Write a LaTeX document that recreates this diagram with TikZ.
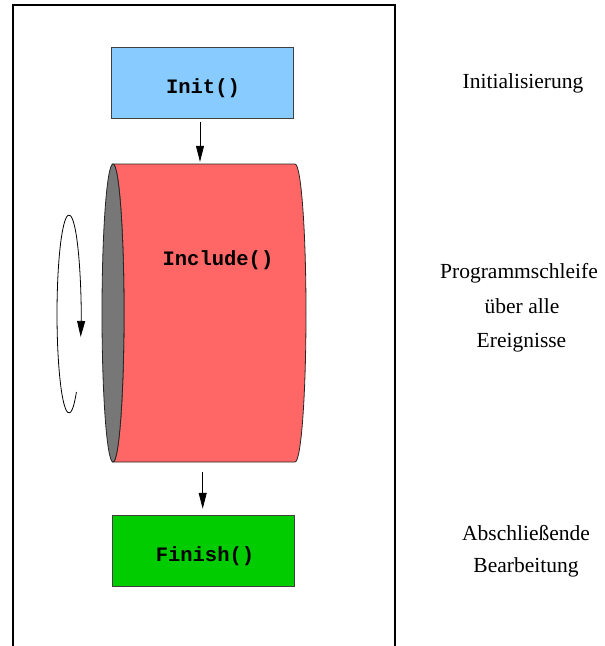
\documentclass[tikz,border=0pt]{standalone}
\usepackage{fontspec}
\setmainfont{Liberation Serif}
\setmonofont{Liberation Mono}
\usetikzlibrary{arrows.meta}
\definecolor{initblue}{HTML}{88CCFF}
\definecolor{cylred}{HTML}{FF6666}
\definecolor{cylgray}{HTML}{777777}
\definecolor{fingreen}{HTML}{00CC00}
\begin{document}
\begin{tikzpicture}[x=1pt,y=-1pt,
  box/.style={draw=black!75, line width=0.9pt, minimum width=182pt, minimum height=71pt, inner sep=0pt},
  code/.style={anchor=base, inner sep=0pt, font=\fontsize{20.5pt}{24pt}\ttfamily\bfseries},
  note/.style={anchor=base, inner sep=0pt, font=\fontsize{21.5pt}{26pt}\selectfont},
  flow/.style={-{Triangle[length=16pt,width=8pt]}, line width=0.8pt},
  shell/.style={draw=black!85, line width=0.8pt},
]
\useasboundingbox (0,0) rectangle (605,646);
% frame
\draw[line width=1.3pt] (13,646) -- (13,5) -- (395,5) -- (395,646);
% Init box
\node[box, fill=initblue] (init) at (202.5,82.5) {};
\node[code] (inittext) at (203,93) {Init()};
% cylinder
\node[minimum width=182pt, minimum height=298pt, inner sep=0pt] (inc) at (204,313) {};
\filldraw[shell, fill=cylred] (113,164) -- (295,164)
  arc[start angle=90, end angle=-90, x radius=11pt, y radius=149pt]
  -- (113,462)
  arc[start angle=-90, end angle=90, x radius=11pt, y radius=149pt] -- cycle;
\filldraw[shell, fill=cylgray] (113,313) ellipse [x radius=11pt, y radius=149pt];
\node[code] (inctext) at (218,265) {Include()};
% Finish box
\node[box, fill=fingreen] (fin) at (203.7,551.2) {};
\node[code] (fintext) at (205,561) {Finish()};
% arrows
\draw[flow, shorten <=4pt, shorten >=2pt] ([xshift=-2.5pt]init.south) -- ([xshift=-2.5pt]init.south |- inc.north);
\draw[flow, shorten <=10pt, shorten >=6.5pt] ([xshift=-1.3pt]inc.south) -- ([xshift=-1.3pt]inc.south |- fin.north);
% loop
\coordinate (loopstart) at (76.4,392);
\draw[flow] (loopstart) arc[start angle=-52, end angle=-373.4, x radius=12pt, y radius=99pt];
% notes
\node[note] (n1) at (523,88) {Initialisierung};
\node[note] (n2) at (519,278) {Programmschleife};
\node[note] (n3) at (522,313) {über alle};
\node[note] (n4) at (521.5,347) {Ereignisse};
\node[note] (n5) at (526,540) {Abschließende};
\node[note] (n6) at (526,572) {Bearbeitung};
\end{tikzpicture}
\end{document}
